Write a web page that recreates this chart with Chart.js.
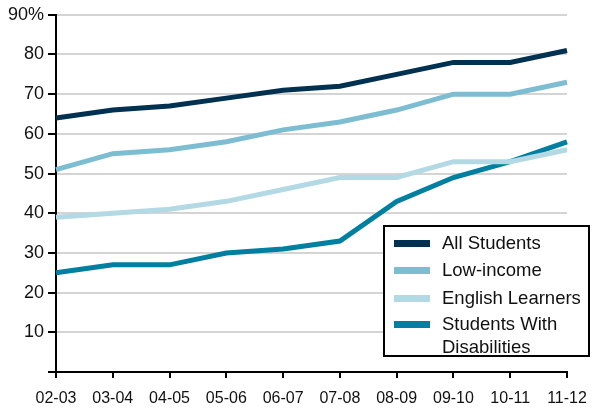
<!DOCTYPE html>
<html lang="en">
<head>
    <meta charset="UTF-8">
    <title>Student Trends</title>
    <script src="https://cdn.jsdelivr.net/npm/chart.js"></script>
    <style>
        body { margin: 0; background: #fff; font-family: "Liberation Sans", Arial, sans-serif; }
        #wrap { position: relative; width: 592px; height: 408px; }
        #legend {
            position: absolute; left: 383px; top: 225px; width: 203px; height: 128px;
            border: 2px solid #000; background: #fff; box-sizing: content-box;
            font-size: 18.5px; color: #111;
        }
        .item { position: absolute; left: 9px; display: flex; align-items: flex-start; }
        .swatch { width: 36px; height: 7px; margin-right: 12px; margin-top: 9px; }
        .label { line-height: 23px; }
    </style>
</head>
<body>
    <div id="wrap">
        <canvas id="chart" width="592" height="408"></canvas>
        <div id="legend"></div>
    </div>

    <script>
        // data
        const years = ['02-03', '03-04', '04-05', '05-06', '06-07', '07-08', '08-09', '09-10', '10-11', '11-12'];
        const allStudents = [64, 66, 67, 69, 71, 72, 75, 78, 78, 81];
        const lowIncome = [51, 55, 56, 58, 61, 63, 66, 70, 70, 73];
        const englishLearners = [39, 40, 41, 43, 46, 49, 49, 53, 53, 56];
        const disabilities = [25, 27, 27, 30, 31, 33, 43, 49, 53, 58];

        const seriesNames = ['All Students', 'Low-income', 'English Learners', 'Students With Disabilities'];
        const seriesColors = ['#013151', '#7dbdd2', '#b2d9e4', '#017fa0'];
        const seriesData = [allStudents, lowIncome, englishLearners, disabilities];

        const datasets = seriesData.map((d, i) => ({
            label: seriesNames[i],
            data: d,
            borderColor: seriesColors[i],
            borderWidth: 5,
            pointRadius: 0,
            tension: 0,
            fill: false
        }));

        new Chart(document.getElementById('chart'), {
            type: 'line',
            data: { labels: years, datasets: datasets },
            options: {
                responsive: false,
                animation: false,
                layout: { padding: { top: 7, right: 25, left: 0, bottom: 0 } },
                plugins: { legend: { display: false }, tooltip: { enabled: false } },
                scales: {
                    x: {
                        offset: false,
                        afterFit: (axis) => {
                            axis.height = 36;
                            axis.paddingLeft = 0;
                            axis.paddingRight = 0;
                        },
                        border: { color: '#000', width: 2 },
                        grid: { drawOnChartArea: false, tickColor: '#000', tickLength: 6, lineWidth: 2 },
                        ticks: { color: '#111', font: { family: 'Liberation Sans', size: 16 }, padding: 11, maxRotation: 0, autoSkip: false }
                    },
                    y: {
                        min: 0,
                        max: 90,
                        afterFit: (axis) => { axis.width = 56; },
                        border: { color: '#000', width: 2 },
                        grid: {
                            color: (c) => c.tick.value === 0 ? 'rgba(0,0,0,0)' : '#d4d4d4',
                            tickColor: '#000',
                            lineWidth: 2,
                            tickLength: 8
                        },
                        ticks: {
                            stepSize: 10,
                            color: '#111',
                            padding: 4,
                            font: { family: 'Liberation Sans', size: 18 },
                            callback: (v) => v === 0 ? '' : (v === 90 ? '90%' : v)
                        }
                    }
                }
            }
        });

        // legend box
        const legend = document.getElementById('legend');
        const rowTops = [4, 31, 59, 85];
        seriesNames.forEach((name, i) => {
            const item = document.createElement('div');
            item.className = 'item';
            item.style.top = rowTops[i] + 'px';
            const sw = document.createElement('div');
            sw.className = 'swatch';
            sw.style.background = seriesColors[i];
            const lb = document.createElement('div');
            lb.className = 'label';
            lb.innerHTML = name === 'Students With Disabilities' ? 'Students With<br>Disabilities' : name;
            item.appendChild(sw);
            item.appendChild(lb);
            legend.appendChild(item);
        });
    </script>
</body>
</html>
